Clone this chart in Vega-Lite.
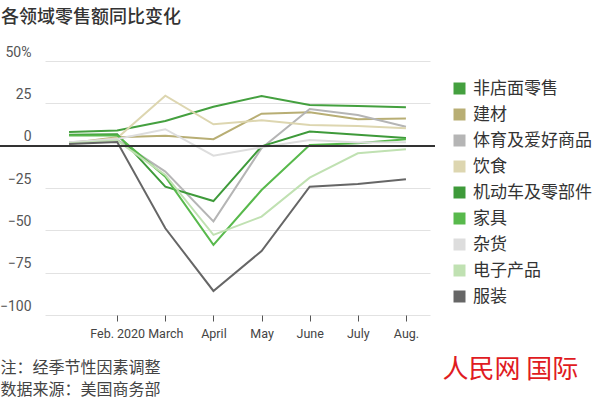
{
  "$schema": "https://vega.github.io/schema/vega-lite/v6.json",
  "width": 435,
  "height": 254,
  "autosize": {"type": "none"},
  "padding": {"left": 0, "top": 61, "right": 165, "bottom": 84},
  "background": "white",
  "title": {
    "text": "各领域零售额同比变化",
    "anchor": "start",
    "frame": "group",
    "orient": "top",
    "font": "Noto Sans CJK SC",
    "fontSize": 18,
    "fontWeight": 500,
    "color": "#333333",
    "offset": 18,
    "dx": 1
  },
  "data": {
    "values": [
      {"month": "Jan", "cat": "非店面零售", "v": 8},
      {"month": "Feb. 2020", "cat": "非店面零售", "v": 9},
      {"month": "March", "cat": "非店面零售", "v": 14.6},
      {"month": "April", "cat": "非店面零售", "v": 23},
      {"month": "May", "cat": "非店面零售", "v": 29.3},
      {"month": "June", "cat": "非店面零售", "v": 24},
      {"month": "July", "cat": "非店面零售", "v": 23.4},
      {"month": "Aug.", "cat": "非店面零售", "v": 22.7},

      {"month": "Jan", "cat": "建材", "v": 1.5},
      {"month": "Feb. 2020", "cat": "建材", "v": 5},
      {"month": "March", "cat": "建材", "v": 5.9},
      {"month": "April", "cat": "建材", "v": 3.8},
      {"month": "May", "cat": "建材", "v": 18.9},
      {"month": "June", "cat": "建材", "v": 19.7},
      {"month": "July", "cat": "建材", "v": 15.6},
      {"month": "Aug.", "cat": "建材", "v": 16},

      {"month": "Jan", "cat": "体育及爱好商品", "v": 2},
      {"month": "Feb. 2020", "cat": "体育及爱好商品", "v": 3.5},
      {"month": "March", "cat": "体育及爱好商品", "v": -15.3},
      {"month": "April", "cat": "体育及爱好商品", "v": -44.7},
      {"month": "May", "cat": "体育及爱好商品", "v": -1.5},
      {"month": "June", "cat": "体育及爱好商品", "v": 21.7},
      {"month": "July", "cat": "体育及爱好商品", "v": 18.1},
      {"month": "Aug.", "cat": "体育及爱好商品", "v": 11.2},

      {"month": "Jan", "cat": "饮食", "v": 1},
      {"month": "Feb. 2020", "cat": "饮食", "v": 4.5},
      {"month": "March", "cat": "饮食", "v": 29.5},
      {"month": "April", "cat": "饮食", "v": 12.6},
      {"month": "May", "cat": "饮食", "v": 15},
      {"month": "June", "cat": "饮食", "v": 12.2},
      {"month": "July", "cat": "饮食", "v": 11.6},
      {"month": "Aug.", "cat": "饮食", "v": 10.3},

      {"month": "Jan", "cat": "机动车及零部件", "v": 6.5},
      {"month": "Feb. 2020", "cat": "机动车及零部件", "v": 6.8},
      {"month": "March", "cat": "机动车及零部件", "v": -24.2},
      {"month": "April", "cat": "机动车及零部件", "v": -32.7},
      {"month": "May", "cat": "机动车及零部件", "v": -0.4},
      {"month": "June", "cat": "机动车及零部件", "v": 8.3},
      {"month": "July", "cat": "机动车及零部件", "v": 6.5},
      {"month": "Aug.", "cat": "机动车及零部件", "v": 4.5},

      {"month": "Jan", "cat": "家具", "v": 6},
      {"month": "Feb. 2020", "cat": "家具", "v": 6},
      {"month": "March", "cat": "家具", "v": -18.3},
      {"month": "April", "cat": "家具", "v": -58.6},
      {"month": "May", "cat": "家具", "v": -26.2},
      {"month": "June", "cat": "家具", "v": 0.4},
      {"month": "July", "cat": "家具", "v": 1.4},
      {"month": "Aug.", "cat": "家具", "v": 3.8},

      {"month": "Jan", "cat": "杂货", "v": 2},
      {"month": "Feb. 2020", "cat": "杂货", "v": 4},
      {"month": "March", "cat": "杂货", "v": 9.7},
      {"month": "April", "cat": "杂货", "v": -5.9},
      {"month": "May", "cat": "杂货", "v": -1},
      {"month": "June", "cat": "杂货", "v": 3.4},
      {"month": "July", "cat": "杂货", "v": 1.9},
      {"month": "Aug.", "cat": "杂货", "v": 2},

      {"month": "Jan", "cat": "电子产品", "v": 1.5},
      {"month": "Feb. 2020", "cat": "电子产品", "v": 3},
      {"month": "March", "cat": "电子产品", "v": -17.3},
      {"month": "April", "cat": "电子产品", "v": -52.7},
      {"month": "May", "cat": "电子产品", "v": -41.9},
      {"month": "June", "cat": "电子产品", "v": -18.9},
      {"month": "July", "cat": "电子产品", "v": -4.5},
      {"month": "Aug.", "cat": "电子产品", "v": -2.1},

      {"month": "Jan", "cat": "服装", "v": 1},
      {"month": "Feb. 2020", "cat": "服装", "v": 2.2},
      {"month": "March", "cat": "服装", "v": -48.8},
      {"month": "April", "cat": "服装", "v": -85.8},
      {"month": "May", "cat": "服装", "v": -62.2},
      {"month": "June", "cat": "服装", "v": -24.2},
      {"month": "July", "cat": "服装", "v": -22.6},
      {"month": "Aug.", "cat": "服装", "v": -19.9}
    ]
  },
  "config": {
    "view": {"stroke": null},
    "font": "Roboto"
  },
  "layer": [
    {
      "mark": {"type": "line", "strokeWidth": 2, "strokeJoin": "miter"},
      "encoding": {
        "x": {
          "field": "month",
          "type": "ordinal",
          "sort": ["Jan", "Feb. 2020", "March", "April", "May", "June", "July", "Aug."],
          "scale": {
            "type": "point",
            "domain": ["Jan", "Feb. 2020", "March", "April", "May", "June", "July", "Aug."],
            "range": [45, 430]
          },
          "axis": {
            "values": ["Feb. 2020", "March", "April", "May", "June", "July", "Aug."],
            "domain": false,
            "grid": false,
            "ticks": true,
            "tickSize": 6,
            "tickColor": "#555555",
            "tickWidth": 1,
            "labelAngle": 0,
            "labelFont": "Roboto",
            "labelFontSize": 12.5,
            "labelColor": "#444444",
            "labelPadding": 6,
            "labelOverlap": false,
            "title": ["注：经季节性因素调整", "数据来源：美国商务部"],
            "titleFont": "Noto Sans CJK SC",
            "titleFontSize": 16,
            "titleFontWeight": "normal",
            "titleColor": "#444444",
            "titleAlign": "left",
            "titleAnchor": "start",
            "titleBaseline": "top",
            "titleLineHeight": 22,
            "titleX": 0,
            "titleY": 44
          }
        },
        "y": {
          "field": "v",
          "type": "quantitative",
          "scale": {"domain": [-100, 50], "nice": false, "zero": false},
          "axis": {
            "values": [-100, -75, -50, -25, 0, 25, 50],
            "labelExpr": "datum.value == 50 ? '50%' : datum.label",
            "domain": false,
            "ticks": false,
            "grid": true,
            "gridColor": "#e2e2e2",
            "gridWidth": 1,
            "labelAlign": "right",
            "labelBaseline": "bottom",
            "labelPadding": -31,
            "labelOffset": -2,
            "labelFont": "Roboto",
            "labelFontSize": 14,
            "labelColor": "#555555",
            "title": "人民网  国际",
            "titleFont": "Noto Sans CJK SC",
            "titleFontSize": 26,
            "titleFontWeight": "normal",
            "titleColor": "#e01b22",
            "titleAngle": 0,
            "titleAlign": "left",
            "titleBaseline": "middle",
            "titleX": 442,
            "titleY": 308
          }
        },
        "color": {
          "field": "cat",
          "type": "nominal",
          "scale": {
            "domain": ["非店面零售", "建材", "体育及爱好商品", "饮食", "机动车及零部件", "家具", "杂货", "电子产品", "服装"],
            "range": ["#44a03f", "#b8ae74", "#b5b5b5", "#ddd6b0", "#3e9a3a", "#58b94c", "#dddddd", "#c0e1b2", "#666666"]
          },
          "legend": {
            "orient": "none",
            "legendX": 451,
            "legendY": 19,
            "title": null,
            "symbolType": "square",
            "symbolSize": 144,
            "symbolStrokeWidth": 0,
            "labelFont": "Noto Sans CJK SC",
            "labelFontSize": 17,
            "labelColor": "#333333",
            "labelOffset": 5,
            "rowPadding": 8,
            "labelLimit": 200,
            "encode": {
              "symbols": {
                "update": {
                  "fill": {"scale": "color", "field": "value"},
                  "strokeWidth": {"value": 0}
                }
              }
            }
          }
        }
      }
    },
    {
      "mark": {"type": "rule", "color": "#333333", "strokeWidth": 1.5},
      "encoding": {
        "y": {"datum": 0}
      }
    }
  ]
}
